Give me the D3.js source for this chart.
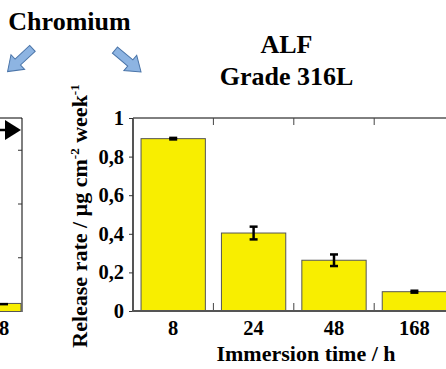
<!DOCTYPE html>
<html>
<head>
<meta charset="utf-8">
<script src="https://cdn.jsdelivr.net/npm/d3@7"></script>
<style>
  html, body { margin: 0; padding: 0; background: #fff; }
  svg { display: block; }
  svg text { font-family: 'Liberation Serif', 'DejaVu Serif', serif !important; font-weight: bold; }
</style>
</head>
<body>
<div id="chart"></div>
<script>
// main panel (ALF, grade 316L)
const categories = ["8", "24", "48", "168"];
const releaseRate = [0.893, 0.404, 0.263, 0.100];
const releaseErr = [0.004, 0.033, 0.030, 0.005];
const yTicks = [0, 0.2, 0.4, 0.6, 0.8, 1];
const yTickLabels = ["0", "0,2", "0,4", "0,6", "0,8", "1"];

// neighbouring panel, only its right edge is visible
const leftCategories = ["8"];
const leftRate = [0.15];
const leftErr = [0.01];
const leftTicks = [1, 2, 3];

const W = 446, H = 369;
const svg = d3.select("#chart").append("svg").attr("width", W).attr("height", H);

const plotTop = 118, plotBottom = 311;
const x = d3.scaleBand().domain(categories).range([133, 454.6]).paddingInner(0.2).paddingOuter(0.1);
const y = d3.scaleLinear().domain([0, 1]).range([plotBottom, plotTop]);

// ---- left (cut off) panel
const lx = d3.scaleBand().domain(leftCategories).range([-14, 22]).paddingOuter(0.03);
const ly = d3.scaleLinear().domain([0, 3.6]).range([plotBottom + 0.5, plotTop]);

const left = svg.append("g");
left.selectAll("rect.bar")
  .data(leftRate)
  .enter().append("rect")
  .attr("class", "bar")
  .attr("x", (d, i) => lx(leftCategories[i]))
  .attr("y", d => ly(d))
  .attr("width", lx.bandwidth())
  .attr("height", d => ly(0) - ly(d))
  .attr("fill", "#f8ee00")
  .attr("stroke", "#555")
  .attr("stroke-width", 1);
left.selectAll("rect.cap")
  .data(leftRate)
  .enter().append("rect")
  .attr("class", "cap")
  .attr("x", (d, i) => lx(leftCategories[i]) + lx.bandwidth() / 2 - 4)
  .attr("y", (d, i) => ly(d + leftErr[i]))
  .attr("width", 8)
  .attr("height", (d, i) => Math.max(2.5, ly(d - leftErr[i]) - ly(d + leftErr[i])))
  .attr("fill", "#000");
left.append("line")
  .attr("x1", 22).attr("x2", 22).attr("y1", plotTop).attr("y2", plotBottom + 1)
  .attr("stroke", "#555").attr("stroke-width", 1.5);
left.append("line")
  .attr("x1", 0).attr("x2", 22).attr("y1", plotTop).attr("y2", plotTop)
  .attr("stroke", "#000").attr("stroke-width", 1);
left.selectAll("line.tick")
  .data(leftTicks)
  .enter().append("line")
  .attr("class", "tick")
  .attr("x1", 18).attr("x2", 22)
  .attr("y1", d => ly(d)).attr("y2", d => ly(d))
  .attr("stroke", "#333").attr("stroke-width", 1);
left.selectAll("text.xl")
  .data(leftCategories)
  .enter().append("text")
  .attr("class", "xl")
  .attr("x", d => lx(d) + lx.bandwidth() / 2)
  .attr("y", 335)
  .attr("text-anchor", "middle")
  .attr("font-size", 20.5)
  .text(d => d);
// black marker arrow in the neighbouring panel
left.append("line")
  .attr("x1", -4).attr("x2", 7).attr("y1", 130).attr("y2", 130)
  .attr("stroke", "#000").attr("stroke-width", 2.5);
left.append("path")
  .attr("d", "M5,120 L21,130 L5,140 Z")
  .attr("fill", "#000");

// ---- headings and blue arrows
svg.append("text").attr("x", 69.5).attr("y", 30).attr("text-anchor", "middle")
  .attr("font-size", 26).text("Chromium");
svg.append("text").attr("x", 286.5).attr("y", 53).attr("text-anchor", "middle")
  .attr("font-size", 26).text("ALF");
svg.append("text").attr("x", 286.5).attr("y", 85).attr("text-anchor", "middle")
  .attr("font-size", 26).text("Grade 316L");

function blockArrow(cx, cy, angle) {
  // arrow along +x, centred on (0,0), then rotated
  const p = [[-17, -4], [3, -4], [3, -10], [17, 0], [3, 10], [3, 4], [-17, 4]];
  svg.append("path")
    .attr("d", "M" + p.map(q => q.join(",")).join("L") + "Z")
    .attr("transform", "translate(" + cx + "," + cy + ") rotate(" + angle + ")")
    .attr("fill", "#8db4e2")
    .attr("stroke", "#4a74a8")
    .attr("stroke-width", 1);
}
blockArrow(20, 60, 137);
blockArrow(128, 61, 40);

// ---- main panel
const g = svg.append("g");

g.selectAll("rect.bar")
  .data(releaseRate)
  .enter().append("rect")
  .attr("class", "bar")
  .attr("x", (d, i) => x(categories[i]))
  .attr("y", d => y(d))
  .attr("width", x.bandwidth())
  .attr("height", d => y(0) - y(d))
  .attr("fill", "#f8ee00")
  .attr("stroke", "#555")
  .attr("stroke-width", 1);

// error bars
const eb = g.selectAll("g.err")
  .data(releaseRate)
  .enter().append("g")
  .attr("class", "err");
eb.append("line")
  .attr("x1", (d, i) => x(categories[i]) + x.bandwidth() / 2)
  .attr("x2", (d, i) => x(categories[i]) + x.bandwidth() / 2)
  .attr("y1", (d, i) => y(d + releaseErr[i]))
  .attr("y2", (d, i) => y(d - releaseErr[i]))
  .attr("stroke", "#000").attr("stroke-width", 2.5);
eb.append("line")
  .attr("x1", (d, i) => x(categories[i]) + x.bandwidth() / 2 - 4)
  .attr("x2", (d, i) => x(categories[i]) + x.bandwidth() / 2 + 4)
  .attr("y1", (d, i) => y(d + releaseErr[i]))
  .attr("y2", (d, i) => y(d + releaseErr[i]))
  .attr("stroke", "#000").attr("stroke-width", 2.5);
eb.append("line")
  .attr("x1", (d, i) => x(categories[i]) + x.bandwidth() / 2 - 4)
  .attr("x2", (d, i) => x(categories[i]) + x.bandwidth() / 2 + 4)
  .attr("y1", (d, i) => y(d - releaseErr[i]))
  .attr("y2", (d, i) => y(d - releaseErr[i]))
  .attr("stroke", "#000").attr("stroke-width", 2.5);

// frame: top line and category separators
const step = x.step();
const seps = categories.slice(1).map(c => x(c) - step * x.paddingInner() / 2);
g.append("line")
  .attr("x1", 133).attr("x2", W).attr("y1", plotTop).attr("y2", plotTop)
  .attr("stroke", "#000").attr("stroke-width", 1);
g.selectAll("line.septop")
  .data(seps)
  .enter().append("line")
  .attr("class", "septop")
  .attr("x1", d => d).attr("x2", d => d)
  .attr("y1", plotTop).attr("y2", plotTop + 7)
  .attr("stroke", "#444").attr("stroke-width", 1);
g.selectAll("line.sepbot")
  .data(seps)
  .enter().append("line")
  .attr("class", "sepbot")
  .attr("x1", d => d).attr("x2", d => d)
  .attr("y1", plotBottom - 8).attr("y2", plotBottom)
  .attr("stroke", "#444").attr("stroke-width", 1);

// y axis
const yAxis = d3.axisLeft(y)
  .tickValues(yTicks)
  .tickSize(4)
  .tickPadding(5)
  .tickFormat((d, i) => yTickLabels[i]);
const ya = g.append("g")
  .attr("transform", "translate(133,0)")
  .call(yAxis);
ya.select(".domain").attr("stroke", "#555").attr("stroke-width", 2).attr("d", "M0," + (plotBottom + 1) + "V" + plotTop);
ya.selectAll(".tick line").attr("stroke", "#333");
ya.selectAll(".tick text")
  .attr("font-size", 20.5)
  .attr("fill", "#000");

// x axis baseline and labels
g.append("line")
  .attr("x1", 132).attr("x2", W).attr("y1", plotBottom).attr("y2", plotBottom)
  .attr("stroke", "#555").attr("stroke-width", 2);
g.selectAll("text.xl")
  .data(categories)
  .enter().append("text")
  .attr("class", "xl")
  .attr("x", d => x(d) + x.bandwidth() / 2)
  .attr("y", 335)
  .attr("text-anchor", "middle")
  .attr("font-size", 20.5)
  .text(d => d);

// axis titles
svg.append("text")
  .attr("x", 306).attr("y", 361)
  .attr("text-anchor", "middle")
  .attr("font-size", 22)
  .text("Immersion time / h");

const yt = svg.append("text")
  .attr("transform", "translate(87,216) rotate(-90)")
  .attr("text-anchor", "middle")
  .attr("font-size", 22);
yt.append("tspan").text("Release rate / µg cm");
yt.append("tspan").attr("font-size", 13).attr("dy", -8).text("-2");
yt.append("tspan").attr("dy", 8).text(" week");
yt.append("tspan").attr("font-size", 13).attr("dy", -8).text("-1");
</script>
</body>
</html>
